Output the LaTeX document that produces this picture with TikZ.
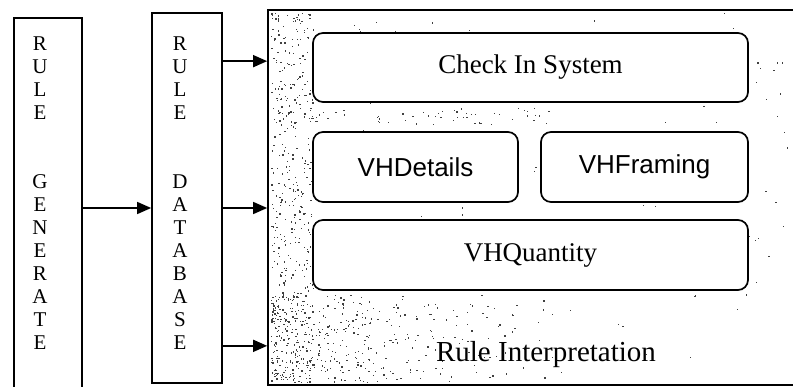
\documentclass[tikz,border=0pt]{standalone}
\usepackage{fontspec}
\setmainfont{Liberation Serif}
\newfontfamily\arialfont{Liberation Sans}
\usetikzlibrary{arrows.meta}

\tikzset{
  column/.style={draw,line width=1.7pt,inner sep=0pt},
  letters/.style={align=center,inner sep=0pt,font=\fontsize{21}{23}\selectfont},
  module/.style={draw,fill=white,line width=1.7pt,rounded corners=10pt,inner sep=0pt,font=\fontsize{27}{30}\selectfont},
  speck/.style={fill=black!75},
  flow/.style={->,line width=1.5pt}
}

\begin{document}
\begin{tikzpicture}[x=1pt,y=-1pt,>={Triangle[length=14pt,width=12pt]}]
\useasboundingbox (0,0) rectangle (793,387);
\clip (0,0) rectangle (793,387);

% columns
\node[column,minimum width=68pt,minimum height=380pt] (gen) at (48,208) {};
\node[letters] (genlbl) at (40,193) {R\\U\\L\\E\\[46pt]G\\E\\N\\E\\R\\A\\T\\E};
\node[column,minimum width=70pt,minimum height=370pt] (db) at (187,198) {};
\node[letters] (dblbl) at (180,193) {R\\U\\L\\E\\[46pt]D\\A\\T\\A\\B\\A\\S\\E};

% interpretation frame
\node[column,minimum width=560pt,minimum height=375pt] (ri) at (548,197.5) {};
\pgfmathsetseed{11}
\foreach \i in {1,...,380}{
  \pgfmathsetmacro\px{271+42*rnd}\pgfmathsetmacro\py{12+370*rnd}
  \fill[speck] (\px,\py) rectangle ++(1.3,1.3);
}
\foreach \i in {1,...,420}{
  \pgfmathsetmacro\px{271+300*rnd*rnd}\pgfmathsetmacro\py{294+88*rnd}
  \fill[speck] (\px,\py) rectangle ++(1.3,1.3);
}
\foreach \i in {1,...,160}{
  \pgfmathsetmacro\px{271+520*rnd}\pgfmathsetmacro\py{12+370*rnd}
  \fill[speck] (\px,\py) rectangle ++(1.2,1.2);
}
\foreach \i in {1,...,60}{
  \pgfmathsetmacro\px{290+260*rnd}\pgfmathsetmacro\py{108+16*rnd}
  \fill[speck] (\px,\py) rectangle ++(1.2,1.2);
}

\node[module,minimum width=435pt,minimum height=69pt] (chk) at (530.5,67.5) {Check In System};
\node[module,minimum width=205pt,minimum height=70pt,font=\arialfont\fontsize{26}{30}\selectfont] (vhd) at (415.5,167) {VHDetails};
\node[module,minimum width=207pt,minimum height=70pt,font=\arialfont\fontsize{26}{30}\selectfont] (vhf) at (644.5,167) {VHFraming};
\node[module,minimum width=435pt,minimum height=70pt] (vhq) at (530.5,255) {VHQuantity};
\node[font=\fontsize{29}{32}\selectfont,inner sep=0pt] (ritxt) at (546,355) {Rule Interpretation};

% connectors
\draw[flow] (gen.east) -- (gen.east -| db.west);
\draw[flow] ([yshift=-49pt]db.north east) coordinate (o1) -- (o1 -| ri.west);
\draw[flow] (gen.east -| db.east) -- (gen.east -| ri.west);
\draw[flow] ([yshift=38pt]db.south east) coordinate (o3) -- (o3 -| ri.west);
\end{tikzpicture}
\end{document}
